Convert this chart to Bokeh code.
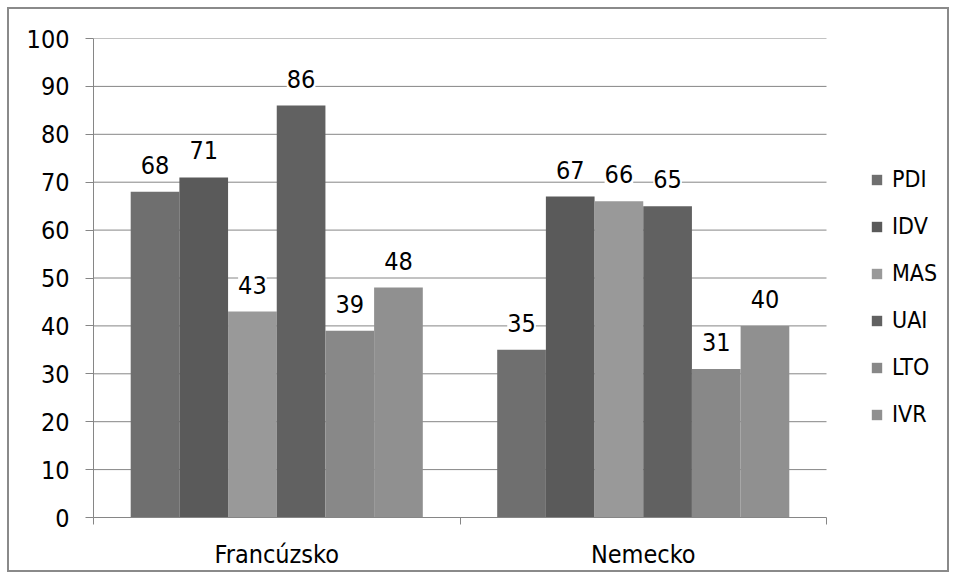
from bokeh.plotting import figure
from bokeh.models import (ColumnDataSource, Range1d, LinearAxis,
                          FixedTicker, LabelSet, Legend, LegendItem)
from bokeh.core.properties import value
from bokeh.transform import dodge
from bokeh.embed import file_html
from bokeh.resources import INLINE

countries = ["Francúzsko", "Nemecko"]
series = ["PDI", "IDV", "MAS", "UAI", "LTO", "IVR"]
PDI = [68, 35]
IDV = [71, 67]
MAS = [43, 66]
UAI = [86, 65]
LTO = [39, 31]
IVR = [48, 40]
colors = ["#6f6f6f", "#5a5a5a", "#999999", "#616161", "#888888", "#909090"]
y_ticks = [0, 10, 20, 30, 40, 50, 60, 70, 80, 90, 100]

FONT = "DejaVu Sans Condensed"
GRID = "#868686"

ncat = len(countries)
xpos = [i + 0.5 for i in range(ncat)]
data = {"x": xpos, "PDI": PDI, "IDV": IDV, "MAS": MAS, "UAI": UAI, "LTO": LTO, "IVR": IVR}
for s in series:
    data[s + "_lbl"] = [str(v) for v in data[s]]
src = ColumnDataSource(data)

# frame spans the whole width so the legend can sit inside it; the plot area ends at x = ncat
FRAME_L, PLOT_R, FRAME_R = 93, 826, 946
x_end = ncat * (FRAME_R - FRAME_L) / (PLOT_R - FRAME_L)

p = figure(width=956, height=579, x_range=Range1d(0, x_end),
           y_range=Range1d(0, 100), output_backend="svg", toolbar_location=None,
           x_axis_location=None, min_border_left=FRAME_L, min_border_right=956 - FRAME_R,
           min_border_top=38, min_border_bottom=62)
p.outline_line_color = None
p.border_fill_color = None
p.background_fill_color = None
p.xgrid.grid_line_color = None
p.ygrid.grid_line_color = None
p.styles = {"background-color": "white",
            "box-shadow": "inset 0 0 0 7px #ffffff, inset 0 0 0 9px #8a8a8a"}

# horizontal gridlines limited to the plot area
grid_src = ColumnDataSource({"y": y_ticks[1:], "x0": [0] * (len(y_ticks) - 1),
                             "x1": [ncat] * (len(y_ticks) - 1)})
p.segment(x0="x0", x1="x1", y0="y", y1="y", source=grid_src, line_color=GRID, line_width=1)

ya = p.yaxis[0]
ya.ticker = FixedTicker(ticks=y_ticks)
ya.axis_line_color = GRID
ya.major_tick_line_color = GRID
ya.major_tick_out = 8
ya.major_tick_in = 0
ya.minor_tick_line_color = None
ya.major_label_standoff = 16
ya.major_label_text_font = FONT
ya.major_label_text_font_size = "25px"
ya.major_label_text_color = "#000000"

# boundary tick axis
tick_axis = LinearAxis(ticker=FixedTicker(ticks=list(range(ncat + 1))), bounds=(0, ncat),
                       axis_line_color=GRID, major_tick_line_color=GRID, major_tick_out=7,
                       major_tick_in=0, minor_tick_line_color=None,
                       major_label_text_font_size="0px", major_label_standoff=0)
p.add_layout(tick_axis, "below")
cat_axis = LinearAxis(ticker=FixedTicker(ticks=xpos),
                      major_label_overrides={x: c for x, c in zip(xpos, countries)},
                      axis_line_color=None, major_tick_line_color=None,
                      minor_tick_line_color=None, major_label_standoff=9,
                      major_label_text_font=FONT, major_label_text_font_size="25px",
                      major_label_text_color="#000000")
p.add_layout(cat_axis, "below")

n = len(series)
group_w = 0.797
w = group_w / n
items = []
for i, s in enumerate(series):
    off = (i - (n - 1) / 2) * w
    r = p.vbar(x=dodge("x", off), top=s, width=w, source=src,
               fill_color=colors[i], line_color=None)
    items.append(LegendItem(label=s, renderers=[r]))
    lbl = LabelSet(x=dodge("x", off), y=s, text=s + "_lbl", source=src,
                   text_align="center", text_baseline="alphabetic", y_offset=18,
                   text_font=value(FONT), text_font_size=value("25px"), text_color="#000000",
                   background_fill_color="white")
    p.add_layout(lbl)

legend = Legend(items=items, location=(870 - FRAME_L, 90), glyph_width=13, glyph_height=13,
                label_height=24, spacing=21, label_standoff=9, padding=0, margin=0,
                border_line_color=None, background_fill_color=None,
                label_text_font=FONT, label_text_font_size="23px", label_text_color="#000000")
p.add_layout(legend, "center")

open("out.html", "w").write(file_html(p, INLINE))
